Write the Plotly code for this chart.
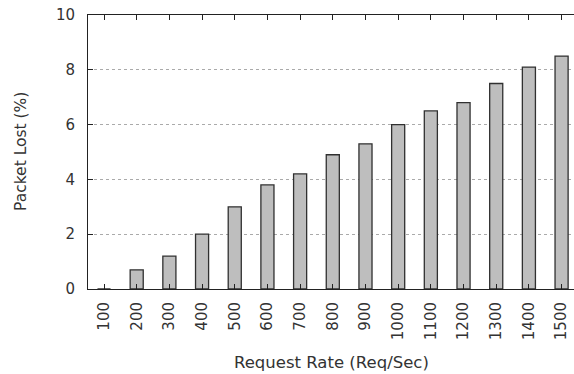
import plotly.graph_objects as go

categories = ["100", "200", "300", "400", "500", "600", "700", "800",
              "900", "1000", "1100", "1200", "1300", "1400", "1500"]
packet_lost = [0.0, 0.7, 1.2, 2.0, 3.0, 3.8, 4.2, 4.9, 5.3, 6.0, 6.5, 6.8, 7.5, 8.1, 8.5]
y_ticks = [0, 2, 4, 6, 8, 10]
x_title = "Request Rate (Req/Sec)"
y_title = "Packet Lost (%)"

fig = go.Figure()
fig.add_trace(go.Bar(
    x=list(range(len(categories))), y=packet_lost,
    width=0.4,
    marker=dict(color="#bebebe", line=dict(color="#303030", width=1.3)),
))

tick_font = dict(family="DejaVu Sans", size=15, color="#333333")
fig.update_layout(
    width=574, height=374,
    margin=dict(l=88, r=0, t=15, b=85),
    plot_bgcolor="white", paper_bgcolor="white",
    showlegend=False,
    font=tick_font,
    xaxis=dict(
        range=[-0.49, 14.38], automargin=False,
        tickmode="array", tickvals=list(range(len(categories))), ticktext=categories,
        tickangle=-90, ticks="inside", ticklen=5, tickcolor="#222222",
        ticklabelstandoff=6, ticklabeloverflow="allow",
        showline=True, linecolor="#222222", linewidth=1, mirror="ticks",
        showgrid=False, zeroline=False, tickfont=tick_font,
    ),
    yaxis=dict(
        range=[0, 10], tickvals=y_ticks, automargin=False,
        ticks="inside", ticklen=5, tickcolor="#222222",
        ticklabelstandoff=9, ticklabeloverflow="allow",
        showline=True, linecolor="#222222", linewidth=1,
        showgrid=True, gridcolor="#aaaaaa", griddash="dot", gridwidth=1,
        zeroline=False, tickfont=tick_font,
    ),
    annotations=[
        dict(text=x_title, xref="paper", yref="paper", x=0.5, y=0,
             yshift=-73, xanchor="center", yanchor="middle", showarrow=False,
             font=dict(family="DejaVu Sans", size=16.5, color="#333333")),
        dict(text=y_title, xref="paper", yref="paper", x=0, y=0.5,
             xshift=-67, xanchor="center", yanchor="middle", textangle=-90,
             showarrow=False,
             font=dict(family="DejaVu Sans", size=15.5, color="#333333")),
    ],
)
fig.write_html("out.html", config={"displayModeBar": False},
               post_script="document.body.style.margin='0px';")
